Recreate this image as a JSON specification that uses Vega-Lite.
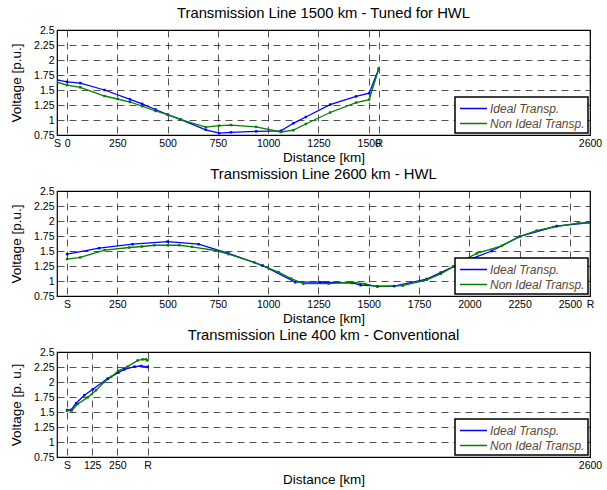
{
  "$schema": "https://vega.github.io/schema/vega-lite/v6.json",
  "background": "#ffffff",
  "padding": {"left": 8, "top": 5, "right": 14, "bottom": 2},
  "spacing": 1,
  "datasets": {
    "p1": [
      {"km": -50, "v": 1.67, "s": "Ideal Transp."},
      {"km": 0, "v": 1.636, "s": "Ideal Transp."},
      {"km": 66, "v": 1.615, "s": "Ideal Transp."},
      {"km": 186, "v": 1.5, "s": "Ideal Transp."},
      {"km": 313, "v": 1.343, "s": "Ideal Transp."},
      {"km": 373, "v": 1.27, "s": "Ideal Transp."},
      {"km": 440, "v": 1.175, "s": "Ideal Transp."},
      {"km": 500, "v": 1.09, "s": "Ideal Transp."},
      {"km": 566, "v": 1.006, "s": "Ideal Transp."},
      {"km": 690, "v": 0.837, "s": "Ideal Transp."},
      {"km": 756, "v": 0.78, "s": "Ideal Transp."},
      {"km": 815, "v": 0.794, "s": "Ideal Transp."},
      {"km": 940, "v": 0.81, "s": "Ideal Transp."},
      {"km": 1063, "v": 0.82, "s": "Ideal Transp."},
      {"km": 1125, "v": 0.945, "s": "Ideal Transp."},
      {"km": 1187, "v": 1.05, "s": "Ideal Transp."},
      {"km": 1308, "v": 1.257, "s": "Ideal Transp."},
      {"km": 1437, "v": 1.393, "s": "Ideal Transp."},
      {"km": 1502, "v": 1.447, "s": "Ideal Transp."},
      {"km": 1550, "v": 1.855, "s": "Ideal Transp."},
      {"km": -50, "v": 1.63, "s": "Non Ideal Transp."},
      {"km": 0, "v": 1.582, "s": "Non Ideal Transp."},
      {"km": 66, "v": 1.545, "s": "Non Ideal Transp."},
      {"km": 186, "v": 1.4, "s": "Non Ideal Transp."},
      {"km": 252, "v": 1.35, "s": "Non Ideal Transp."},
      {"km": 313, "v": 1.3, "s": "Non Ideal Transp."},
      {"km": 373, "v": 1.23, "s": "Non Ideal Transp."},
      {"km": 440, "v": 1.15, "s": "Non Ideal Transp."},
      {"km": 500, "v": 1.09, "s": "Non Ideal Transp."},
      {"km": 566, "v": 1.006, "s": "Non Ideal Transp."},
      {"km": 690, "v": 0.88, "s": "Non Ideal Transp."},
      {"km": 756, "v": 0.905, "s": "Non Ideal Transp."},
      {"km": 815, "v": 0.916, "s": "Non Ideal Transp."},
      {"km": 940, "v": 0.885, "s": "Non Ideal Transp."},
      {"km": 1063, "v": 0.8, "s": "Non Ideal Transp."},
      {"km": 1125, "v": 0.83, "s": "Non Ideal Transp."},
      {"km": 1187, "v": 0.934, "s": "Non Ideal Transp."},
      {"km": 1308, "v": 1.125, "s": "Non Ideal Transp."},
      {"km": 1437, "v": 1.29, "s": "Non Ideal Transp."},
      {"km": 1502, "v": 1.34, "s": "Non Ideal Transp."},
      {"km": 1550, "v": 1.855, "s": "Non Ideal Transp."}
    ],
    "p2": [
      {"km": 0, "v": 1.448, "s": "Ideal Transp."},
      {"km": 160, "v": 1.547, "s": "Ideal Transp."},
      {"km": 326, "v": 1.613, "s": "Ideal Transp."},
      {"km": 500, "v": 1.657, "s": "Ideal Transp."},
      {"km": 654, "v": 1.613, "s": "Ideal Transp."},
      {"km": 803, "v": 1.46, "s": "Ideal Transp."},
      {"km": 972, "v": 1.258, "s": "Ideal Transp."},
      {"km": 1134, "v": 0.98, "s": "Ideal Transp."},
      {"km": 1258, "v": 0.98, "s": "Ideal Transp."},
      {"km": 1300, "v": 0.975, "s": "Ideal Transp."},
      {"km": 1419, "v": 0.967, "s": "Ideal Transp."},
      {"km": 1460, "v": 0.93, "s": "Ideal Transp."},
      {"km": 1543, "v": 0.913, "s": "Ideal Transp."},
      {"km": 1626, "v": 0.915, "s": "Ideal Transp."},
      {"km": 1788, "v": 1.033, "s": "Ideal Transp."},
      {"km": 1858, "v": 1.14, "s": "Ideal Transp."},
      {"km": 1921, "v": 1.24, "s": "Ideal Transp."},
      {"km": 1979, "v": 1.33, "s": "Ideal Transp."},
      {"km": 2111, "v": 1.5, "s": "Ideal Transp."},
      {"km": 2252, "v": 1.745, "s": "Ideal Transp."},
      {"km": 2434, "v": 1.915, "s": "Ideal Transp."},
      {"km": 2600, "v": 1.975, "s": "Ideal Transp."},
      {"km": 0, "v": 1.366, "s": "Non Ideal Transp."},
      {"km": 66, "v": 1.394, "s": "Non Ideal Transp."},
      {"km": 187, "v": 1.514, "s": "Non Ideal Transp."},
      {"km": 310, "v": 1.558, "s": "Non Ideal Transp."},
      {"km": 372, "v": 1.575, "s": "Non Ideal Transp."},
      {"km": 434, "v": 1.596, "s": "Non Ideal Transp."},
      {"km": 500, "v": 1.596, "s": "Non Ideal Transp."},
      {"km": 558, "v": 1.596, "s": "Non Ideal Transp."},
      {"km": 621, "v": 1.57, "s": "Non Ideal Transp."},
      {"km": 745, "v": 1.504, "s": "Non Ideal Transp."},
      {"km": 803, "v": 1.448, "s": "Non Ideal Transp."},
      {"km": 931, "v": 1.31, "s": "Non Ideal Transp."},
      {"km": 1051, "v": 1.148, "s": "Non Ideal Transp."},
      {"km": 1114, "v": 1.04, "s": "Non Ideal Transp."},
      {"km": 1175, "v": 0.956, "s": "Non Ideal Transp."},
      {"km": 1300, "v": 0.956, "s": "Non Ideal Transp."},
      {"km": 1419, "v": 0.98, "s": "Non Ideal Transp."},
      {"km": 1482, "v": 0.95, "s": "Non Ideal Transp."},
      {"km": 1543, "v": 0.906, "s": "Non Ideal Transp."},
      {"km": 1669, "v": 0.923, "s": "Non Ideal Transp."},
      {"km": 1788, "v": 1.02, "s": "Non Ideal Transp."},
      {"km": 1858, "v": 1.12, "s": "Non Ideal Transp."},
      {"km": 1921, "v": 1.24, "s": "Non Ideal Transp."},
      {"km": 1979, "v": 1.36, "s": "Non Ideal Transp."},
      {"km": 2037, "v": 1.46, "s": "Non Ideal Transp."},
      {"km": 2161, "v": 1.586, "s": "Non Ideal Transp."},
      {"km": 2252, "v": 1.745, "s": "Non Ideal Transp."},
      {"km": 2335, "v": 1.84, "s": "Non Ideal Transp."},
      {"km": 2417, "v": 1.9, "s": "Non Ideal Transp."},
      {"km": 2541, "v": 1.965, "s": "Non Ideal Transp."},
      {"km": 2600, "v": 1.97, "s": "Non Ideal Transp."}
    ],
    "p3": [
      {"km": 0, "v": 1.534, "s": "Ideal Transp."},
      {"km": 20, "v": 1.534, "s": "Ideal Transp."},
      {"km": 45, "v": 1.645, "s": "Ideal Transp."},
      {"km": 86, "v": 1.78, "s": "Ideal Transp."},
      {"km": 128, "v": 1.88, "s": "Ideal Transp."},
      {"km": 202, "v": 2.057, "s": "Ideal Transp."},
      {"km": 255, "v": 2.157, "s": "Ideal Transp."},
      {"km": 285, "v": 2.21, "s": "Ideal Transp."},
      {"km": 335, "v": 2.256, "s": "Ideal Transp."},
      {"km": 368, "v": 2.267, "s": "Ideal Transp."},
      {"km": 400, "v": 2.25, "s": "Ideal Transp."},
      {"km": 0, "v": 1.524, "s": "Non Ideal Transp."},
      {"km": 23, "v": 1.524, "s": "Non Ideal Transp."},
      {"km": 53, "v": 1.634, "s": "Non Ideal Transp."},
      {"km": 103, "v": 1.744, "s": "Non Ideal Transp."},
      {"km": 144, "v": 1.864, "s": "Non Ideal Transp."},
      {"km": 185, "v": 2.0, "s": "Non Ideal Transp."},
      {"km": 219, "v": 2.085, "s": "Non Ideal Transp."},
      {"km": 255, "v": 2.185, "s": "Non Ideal Transp."},
      {"km": 301, "v": 2.256, "s": "Non Ideal Transp."},
      {"km": 351, "v": 2.36, "s": "Non Ideal Transp."},
      {"km": 376, "v": 2.377, "s": "Non Ideal Transp."},
      {"km": 392, "v": 2.377, "s": "Non Ideal Transp."},
      {"km": 400, "v": 2.36, "s": "Non Ideal Transp."}
    ]
  },
  "vconcat": [
    {
      "title": "Transmission Line 1500 km - Tuned for HWL",
      "width": 533,
      "height": 105,
      "data": {"name": "p1"},
      "mark": {"type": "line", "strokeWidth": 1.3, "clip": true, "point": {"filled": true, "shape": "square", "size": 6}},
      "encoding": {
        "x": {"field": "km", "type": "quantitative", "scale": {"domain": [-50, 2600], "nice": false, "zero": false},
              "axis": {"title": "Distance [km]", "format": "d", "values": [-50, 0, 250, 500, 750, 1000, 1250, 1500, 1550, 2600],
                       "labelExpr": "datum.value == -50 ? 'S' : datum.value == 1550 ? 'R' : datum.label"}},
        "y": {"field": "v", "type": "quantitative", "scale": {"domain": [0.75, 2.5], "nice": false, "zero": false},
              "axis": {"title": "Voltage [p.u.]", "values": [0.75, 1, 1.25, 1.5, 1.75, 2, 2.25, 2.5], "format": ".2~f"}},
        "color": {"field": "s", "type": "nominal", "scale": {"domain": ["Ideal Transp.", "Non Ideal Transp."], "range": ["#0000ff", "#008000"]}, "legend": {"title": null}}
      }
    },
    {
      "title": "Transmission Line 2600 km - HWL",
      "width": 533,
      "height": 105,
      "data": {"name": "p2"},
      "mark": {"type": "line", "strokeWidth": 1.3, "clip": true, "point": {"filled": true, "shape": "square", "size": 6}},
      "encoding": {
        "x": {"field": "km", "type": "quantitative", "scale": {"domain": [-50, 2600], "nice": false, "zero": false},
              "axis": {"title": "Distance [km]", "format": "d", "values": [0, 250, 500, 750, 1000, 1250, 1500, 1750, 2000, 2250, 2500, 2600],
                       "labelExpr": "datum.value == 0 ? 'S' : datum.value == 2600 ? 'R' : datum.label"}},
        "y": {"field": "v", "type": "quantitative", "scale": {"domain": [0.75, 2.5], "nice": false, "zero": false},
              "axis": {"title": "Voltage [p.u.]", "values": [0.75, 1, 1.25, 1.5, 1.75, 2, 2.25, 2.5], "format": ".2~f"}},
        "color": {"field": "s", "type": "nominal", "scale": {"domain": ["Ideal Transp.", "Non Ideal Transp."], "range": ["#0000ff", "#008000"]}, "legend": {"title": null}}
      }
    },
    {
      "title": "Transmission Line 400 km - Conventional",
      "width": 533,
      "height": 105,
      "data": {"name": "p3"},
      "mark": {"type": "line", "strokeWidth": 1.3, "clip": true, "point": {"filled": true, "shape": "square", "size": 6}},
      "encoding": {
        "x": {"field": "km", "type": "quantitative", "scale": {"domain": [-50, 2600], "nice": false, "zero": false},
              "axis": {"title": "Distance [km]", "format": "d", "values": [0, 125, 250, 400, 2600],
                       "labelExpr": "datum.value == 0 ? 'S' : datum.value == 400 ? 'R' : datum.label"}},
        "y": {"field": "v", "type": "quantitative", "scale": {"domain": [0.75, 2.5], "nice": false, "zero": false},
              "axis": {"title": "Voltage [p. u.]", "values": [0.75, 1, 1.25, 1.5, 1.75, 2, 2.25, 2.5], "format": ".2~f"}},
        "color": {"field": "s", "type": "nominal", "scale": {"domain": ["Ideal Transp.", "Non Ideal Transp."], "range": ["#0000ff", "#008000"]}, "legend": {"title": null}}
      }
    }
  ],
  "resolve": {"scale": {"color": "independent"}, "legend": {"color": "independent"}},
  "config": {
    "font": "Liberation Sans",
    "view": {"stroke": "#000000", "strokeWidth": 1.2},
    "axis": {
      "grid": true, "gridColor": "#000000", "gridDash": [7, 5], "gridWidth": 0.8, "gridOpacity": 0.85,
      "domain": false, "ticks": false, "labelOverlap": false, "labelFlush": false,
      "labelFont": "Liberation Sans", "labelFontSize": 10.5, "labelColor": "#000000", "labelPadding": 3,
      "titleFont": "Liberation Sans", "titleFontSize": 13.5, "titleFontWeight": "normal", "titleColor": "#000000"
    },
    "axisX": {"titlePadding": 2},
    "axisY": {"titlePadding": 10},
    "title": {"font": "Liberation Sans", "fontSize": 14.8, "fontWeight": "normal", "color": "#000000", "offset": 4},
    "legend": {
      "orient": "bottom-right", "offset": 2, "strokeColor": "#000000", "strokeWidth": 1.5, "fillColor": "#ffffff", "padding": 3,
      "labelFont": "Liberation Sans", "labelFontStyle": "italic", "labelColor": "#5b4636", "labelFontSize": 12,
      "symbolType": "M-1.8,0H1.8", "symbolSize": 225, "symbolStrokeWidth": 1.5, "symbolOffset": 7, "rowPadding": 0, "labelOffset": 8
    }
  }
}
